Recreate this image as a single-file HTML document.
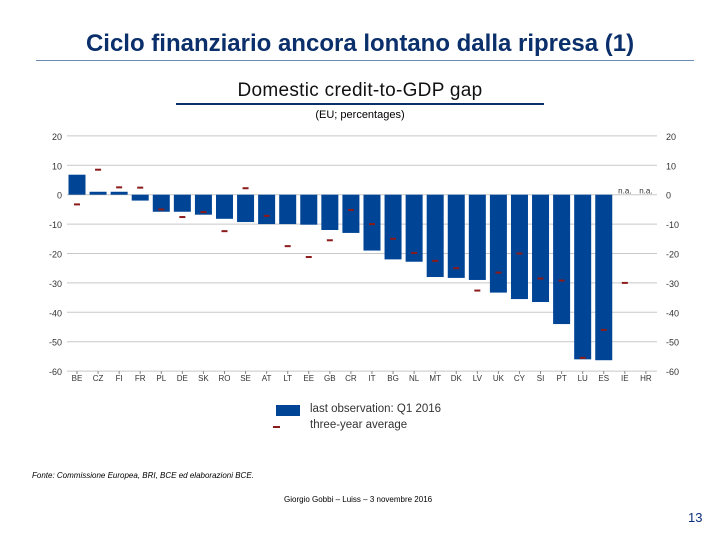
<!DOCTYPE html>
<html><head><meta charset="utf-8"><style>
body{margin:0;width:720px;height:540px;background:#fff;font-family:"Liberation Sans",sans-serif;position:relative;overflow:hidden}
.abs{position:absolute}
</style></head><body>
<div class="abs" style="left:0;width:720px;top:30px;text-align:center;font-size:24px;font-weight:bold;color:#0a2f6a">Ciclo finanziario ancora lontano dalla ripresa (1)</div>
<div class="abs" style="left:36px;width:658px;top:60px;height:1px;background:#6b8bb0"></div>
<div class="abs" style="left:166px;width:388px;top:80px;text-align:center;font-size:19px;letter-spacing:0.3px;color:#111">Domestic credit-to-GDP gap</div>
<div class="abs" style="left:176px;width:368px;top:103px;height:2px;background:#0a2f6a"></div>
<div class="abs" style="left:176px;width:368px;top:109px;text-align:center;font-size:11px;color:#000">(EU; percentages)</div>
<svg class="abs" style="left:0;top:0" width="720" height="540" id="chart"></svg>
<div class="abs" style="left:276px;top:405px;width:24px;height:11px;background:#004495"></div>
<div class="abs" style="left:310px;top:403px;font-size:11.5px;color:#333">last observation: Q1 2016</div>
<div class="abs" style="left:273px;top:426px;width:7px;height:2px;background:#8b1a1a"></div>
<div class="abs" style="left:310px;top:419px;font-size:11.5px;color:#333">three-year average</div>
<div class="abs" style="left:32px;top:471px;font-size:8px;font-style:italic;color:#000">Fonte: Commissione Europea, BRI, BCE ed elaborazioni BCE.</div>
<div class="abs" style="left:284px;top:495px;font-size:8px;color:#000">Giorgio Gobbi – Luiss – 3 novembre 2016</div>
<div class="abs" style="left:688px;top:510px;font-size:13px;color:#0a2f7a">13</div>
<script>
const categories=["BE","CZ","FI","FR","PL","DE","SK","RO","SE","AT","LT","EE","GB","CR","IT","BG","NL","MT","DK","LV","UK","CY","SI","PT","LU","ES","IE","HR"];
const lastObs=[6.8,1,1,-2,-5.8,-5.8,-6.8,-8.2,-9.3,-10,-10,-10.2,-12,-13,-19,-22,-22.8,-28,-28.3,-29,-33.3,-35.5,-36.5,-44,-56,-56.3,null,null];
const avg3y=[-3.3,8.5,2.5,2.4,-5,-7.6,-5.9,-12.4,2.2,-7.2,-17.5,-21.2,-15.5,-5.2,-10,-15,-19.8,-22.5,-25,-32.6,-26.5,-20,-28.5,-29.2,-55.5,-46,-30,null];
const yTicks=[20,10,0,-10,-20,-30,-40,-50,-60];
const svg=document.getElementById('chart');const NS='http://www.w3.org/2000/svg';
const y=v=>194.7-(v)*2.94;
const x=i=>77+i*21.07;
function mk(t,a){const e=document.createElementNS(NS,t);for(const k in a)e.setAttribute(k,a[k]);svg.appendChild(e);return e;}
yTicks.forEach(t=>{
 const g=mk('line',{x1:67,x2:657,y1:y(t),y2:y(t),stroke:'#c8c8c8','stroke-width':1});
 
 
 [[40,'end'],[666,'start']].forEach(([px,an])=>{
  const l=mk('text',{x:px+(an==='end'?22:0),y:y(t)+4,'font-size':9,'text-anchor':an,fill:'#333'});
  l.textContent=t;
  
  
 });
});
categories.forEach((c,i)=>{
 const v=lastObs[i];
 if(v!==null){
  const r=mk('rect',{x:x(i)-8.5,width:17,y:Math.min(y(0),y(v)),height:Math.abs(y(v)-y(0)),fill:'#004495'});
  
  
 } else {
  const n=mk('text',{x:x(i),y:y(0)-1,'font-size':8,'text-anchor':'middle',fill:'#333'});
  n.textContent='n.a.';
  
  
 }
 const a=avg3y[i];
 if(a!==null){
  const m=mk('rect',{x:x(i)-3,width:6,y:y(a)-1,height:2,fill:'#8b1a1a'});
  
  
 }
 const tk=mk('line',{x1:x(i),x2:x(i),y1:371,y2:374,stroke:'#888'});
 
 
 const l=mk('text',{x:x(i),y:381,'font-size':8,'text-anchor':'middle',fill:'#333'});
 l.textContent=c;
 
 
});
</script>
</body></html>
